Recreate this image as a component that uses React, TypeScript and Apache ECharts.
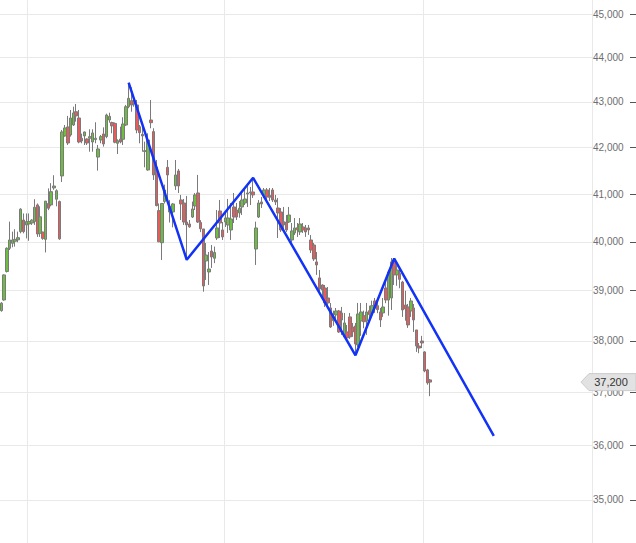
import React, { useEffect, useRef } from "react";
import * as echarts from "echarts";

// [open, close, low, high] per trading day
const CANDLES: [number, number, number, number][] = [
  [38600, 38750, 38580, 38770], [38814, 39320, 38800, 39333], [39390, 39865, 39370, 39885], [39865, 40037, 39830, 40418],
  [39968, 40037, 39886, 40210], [40010, 40050, 39900, 40260], [40040, 40085, 39990, 40210], [40210, 40680, 40175, 40700],
  [40453, 40210, 40175, 40590], [40350, 40420, 40070, 40590], [40370, 40420, 40020, 40590], [40390, 40450, 40350, 40470],
  [40420, 40720, 40350, 40890], [40770, 40160, 40100, 40800], [40175, 40520, 40100, 40740], [40200, 40070, 40040, 40210],
  [40050, 40850, 39780, 40850], [40800, 40700, 40660, 41120], [40770, 41050, 40740, 41230], [41130, 41170, 41090, 41400],
  [40890, 41070, 40740, 41100], [40840, 40060, 40040, 40860], [41385, 42337, 41256, 42381], [42250, 42425, 42235, 42490],
  [42447, 42096, 42053, 42690], [42271, 42644, 42235, 42821], [42490, 42755, 42469, 42894], [42783, 42690, 42563, 42955],
  [42644, 42118, 42090, 42821], [42200, 42140, 42090, 42300], [42250, 42337, 42053, 42345], [42184, 42096, 42053, 42200],
  [42200, 42235, 41907, 42395], [42118, 42315, 41907, 42395], [42170, 42200, 42090, 42550], [41791, 41966, 41498, 42053],
  [42162, 42235, 42090, 42271], [42293, 42075, 42017, 42438], [42235, 42710, 42200, 42740], [42600, 42680, 42540, 42760],
  [42545, 42470, 42308, 42563], [42525, 42112, 42090, 42545], [42090, 42147, 41857, 42177], [42180, 42120, 42090, 42453],
  [42177, 42512, 42053, 42660], [42490, 42894, 42469, 42932], [42894, 43080, 42860, 43418], [43028, 42930, 42783, 43326],
  [43028, 42955, 42894, 43080], [42932, 42381, 42308, 43043], [42453, 42322, 42090, 42490], [42286, 42250, 41907, 42453],
  [41930, 41910, 41570, 42125], [41513, 42162, 41498, 42308], [42600, 42540, 42418, 43043], [42345, 41406, 41299, 42418],
  [41570, 40754, 40740, 41728], [40650, 40000, 39990, 40800], [39980, 40800, 39625, 40810], [40840, 41086, 40800, 41200],
  [41570, 41406, 40900, 41728], [40620, 40740, 40400, 40870], [40621, 40790, 40300, 40810], [41171, 41406, 41086, 41728],
  [41492, 41171, 41022, 41535], [40874, 40790, 40453, 40980], [40810, 40410, 40350, 40895], [40410, 40350, 39650, 40960],
  [40370, 40310, 40290, 40453], [40515, 40684, 40494, 40840], [40747, 40980, 40663, 41022], [41022, 40410, 40390, 41406],
  [40400, 40270, 40200, 40450], [40266, 39096, 38981, 40266], [39605, 39727, 39218, 39975], [39380, 39440, 39116, 39789],
  [39809, 39686, 39462, 39933], [39660, 39780, 39560, 39900], [40078, 40287, 40037, 40663], [40642, 40390, 40078, 40874],
  [40245, 40100, 40037, 40411], [40411, 40495, 40307, 40621], [40349, 40495, 40183, 40895], [40245, 40474, 40037, 40810],
  [40726, 40515, 40390, 41022], [40663, 40515, 40453, 40810], [40600, 40700, 40500, 40850], [40726, 40874, 40558, 41043],
  [40810, 40895, 40768, 41150], [41000, 41022, 40726, 41214], [41022, 41043, 40768, 41150], [41043, 40980, 40916, 41340],
  [39850, 40287, 39523, 40418], [40515, 40810, 40494, 40874], [40832, 40790, 40705, 40937], [40980, 41086, 40916, 41128],
  [41086, 40937, 40853, 41128], [40970, 40930, 40853, 41128], [41086, 40874, 40832, 41128], [40874, 40832, 40768, 40980],
  [40705, 40600, 40078, 40916], [40621, 40245, 40204, 40705], [40418, 40349, 40204, 40726], [40411, 40245, 40204, 40558],
  [40411, 40558, 40390, 40726], [40037, 40225, 39996, 40390], [40183, 40287, 40141, 40494], [40293, 40245, 40100, 40390],
  [40204, 40370, 40141, 40494], [40307, 40245, 40183, 40390], [40287, 40204, 40100, 40349], [40287, 40245, 40141, 40349],
  [40037, 39830, 39768, 40141], [39933, 39645, 39605, 39975], [39585, 39523, 39320, 39789], [39259, 39035, 38975, 39421],
  [39116, 39015, 38814, 39130], [39055, 38754, 38674, 39116], [38854, 38754, 38654, 39075], [38654, 38276, 38257, 38754],
  [38400, 38480, 38300, 38600], [38515, 38594, 38415, 38654], [38594, 38177, 38158, 38614], [38554, 38415, 38118, 38674],
  [38080, 38356, 38060, 38554], [38178, 38060, 38020, 38316], [38475, 38080, 38040, 38554], [38276, 38177, 38080, 38356],
  [38296, 37942, 37726, 38356], [37922, 38534, 37882, 38754], [38395, 38574, 38100, 38754], [38500, 38380, 38250, 38600],
  [38395, 38574, 38120, 38754], [38600, 38520, 38400, 38700], [38560, 38700, 38480, 38800], [38794, 38654, 38556, 38854],
  [38700, 38620, 38550, 38800], [38574, 38415, 38276, 38654], [38554, 38674, 38475, 38854], [39055, 38814, 38750, 39218],
  [38814, 39380, 38500, 39421], [38854, 39585, 38614, 39665], [39625, 39320, 39116, 39650], [39320, 39421, 39100, 39520],
  [39350, 39230, 39050, 39420], [39176, 38614, 38475, 39200], [38714, 38634, 38400, 39000], [38674, 38316, 38257, 38734],
  [38594, 38794, 38475, 38854], [38654, 38415, 38178, 38734], [38217, 37902, 37785, 38217], [37900, 37860, 37760, 37960],
  [37998, 37960, 37860, 38100], [37785, 37415, 37390, 37800], [37435, 37185, 37150, 37455], [37242, 37200, 36930, 37260],
];

const FUTURE_DAYS = 58;
const CATEGORIES: string[] = Array.from({ length: CANDLES.length + FUTURE_DAYS }, (_, i) => `D${i + 1}`);

// hand-drawn zigzag trend line: day index and price of each pivot
const TREND_IDX = [46, 67, 91, 128, 142, 178];
const TREND_VAL = [43430, 39630, 41345, 37720, 39655, 36180];

const Y_TICKS = [35000, 36000, 37000, 38000, 39000, 40000, 41000, 42000, 43000, 44000, 45000];
const Y_MIN = 34230;
const Y_MAX = 45327;
const V_GRID_IDX = [10, 81, 153];
const LAST_PRICE = 37200;

const UP = "#6cbf3e";
const DOWN = "#eb5a5a";
const EDGE = "#7a7a7a";
const FONT = "'Liberation Sans', Arial, sans-serif";

const fmt = (v: number) => Number(v).toLocaleString("en-US");

export default function App() {
  const ref = useRef<HTMLDivElement>(null);
  useEffect(() => {
    if (!ref.current) return;
    const chart = echarts.init(ref.current, null, { renderer: "svg" });
    chart.setOption({
      animation: false,
      backgroundColor: "#ffffff",
      grid: { left: 0, right: 44, top: 0, bottom: 0, containLabel: false, outerBoundsMode: "none" },
      xAxis: {
        type: "category",
        data: CATEGORIES,
        boundaryGap: true,
        axisLine: { show: false },
        axisTick: { show: false },
        axisLabel: { show: false },
        splitLine: {
          show: true,
          interval: (idx: number) => V_GRID_IDX.includes(idx),
          lineStyle: { color: "#e9e9e9", width: 1 },
        },
      },
      yAxis: [
        {
          type: "log",
          position: "right",
          min: Y_MIN,
          max: Y_MAX,
          axisLine: { show: false },
          axisTick: { show: false, customValues: Y_TICKS },
          axisLabel: {
            customValues: Y_TICKS,
            formatter: (v: number) => fmt(v),
            color: "#6e6e6e",
            fontSize: 10,
            fontFamily: FONT,
            margin: 1,
          },
          splitLine: { show: true, lineStyle: { color: "#e9e9e9", width: 1 } },
        },
        {
          type: "log",
          position: "right",
          offset: 44,
          min: Y_MIN,
          max: Y_MAX,
          axisLine: { show: false },
          axisTick: { show: true, inside: true, length: 6, customValues: Y_TICKS, lineStyle: { color: "#555555", width: 1 } },
          axisLabel: { show: false },
          splitLine: { show: false },
        },
      ],
      series: [
        {
          type: "candlestick",
          data: CANDLES.map((c) => [c[0], c[1], c[2], c[3]]),
          barWidth: 3,
          itemStyle: {
            color: UP,
            color0: DOWN,
            borderColor: EDGE,
            borderColor0: EDGE,
            borderWidth: 1,
          },
          silent: true,
        },
        {
          type: "line",
          data: TREND_IDX.map((d, i) => [d, TREND_VAL[i]]),
          symbol: "none",
          lineStyle: { color: "#1233f7", width: 2.5 },
          z: 5,
          silent: true,
        },
      ],
    });
    const y = chart.convertToPixel({ yAxisIndex: 0 }, LAST_PRICE) as number;
    chart.setOption({
      graphic: [
        {
          type: "polygon",
          shape: { points: [[581, y], [589, y - 8.5], [636, y - 8.5], [636, y + 8.5], [589, y + 8.5]] },
          style: { fill: "#e2e2e2", stroke: "#cccccc", lineWidth: 1 },
          z: 100,
        },
        {
          type: "text",
          x: 611,
          y: y,
          style: {
            text: fmt(LAST_PRICE),
            align: "center",
            verticalAlign: "middle",
            fontSize: 11,
            fontFamily: FONT,
            fill: "#333333",
          },
          z: 101,
        },
      ],
    });
    return () => chart.dispose();
  }, []);
  return <div ref={ref} style={{ position: "fixed", left: 0, top: 0, width: 636, height: 543 }} />;
}
